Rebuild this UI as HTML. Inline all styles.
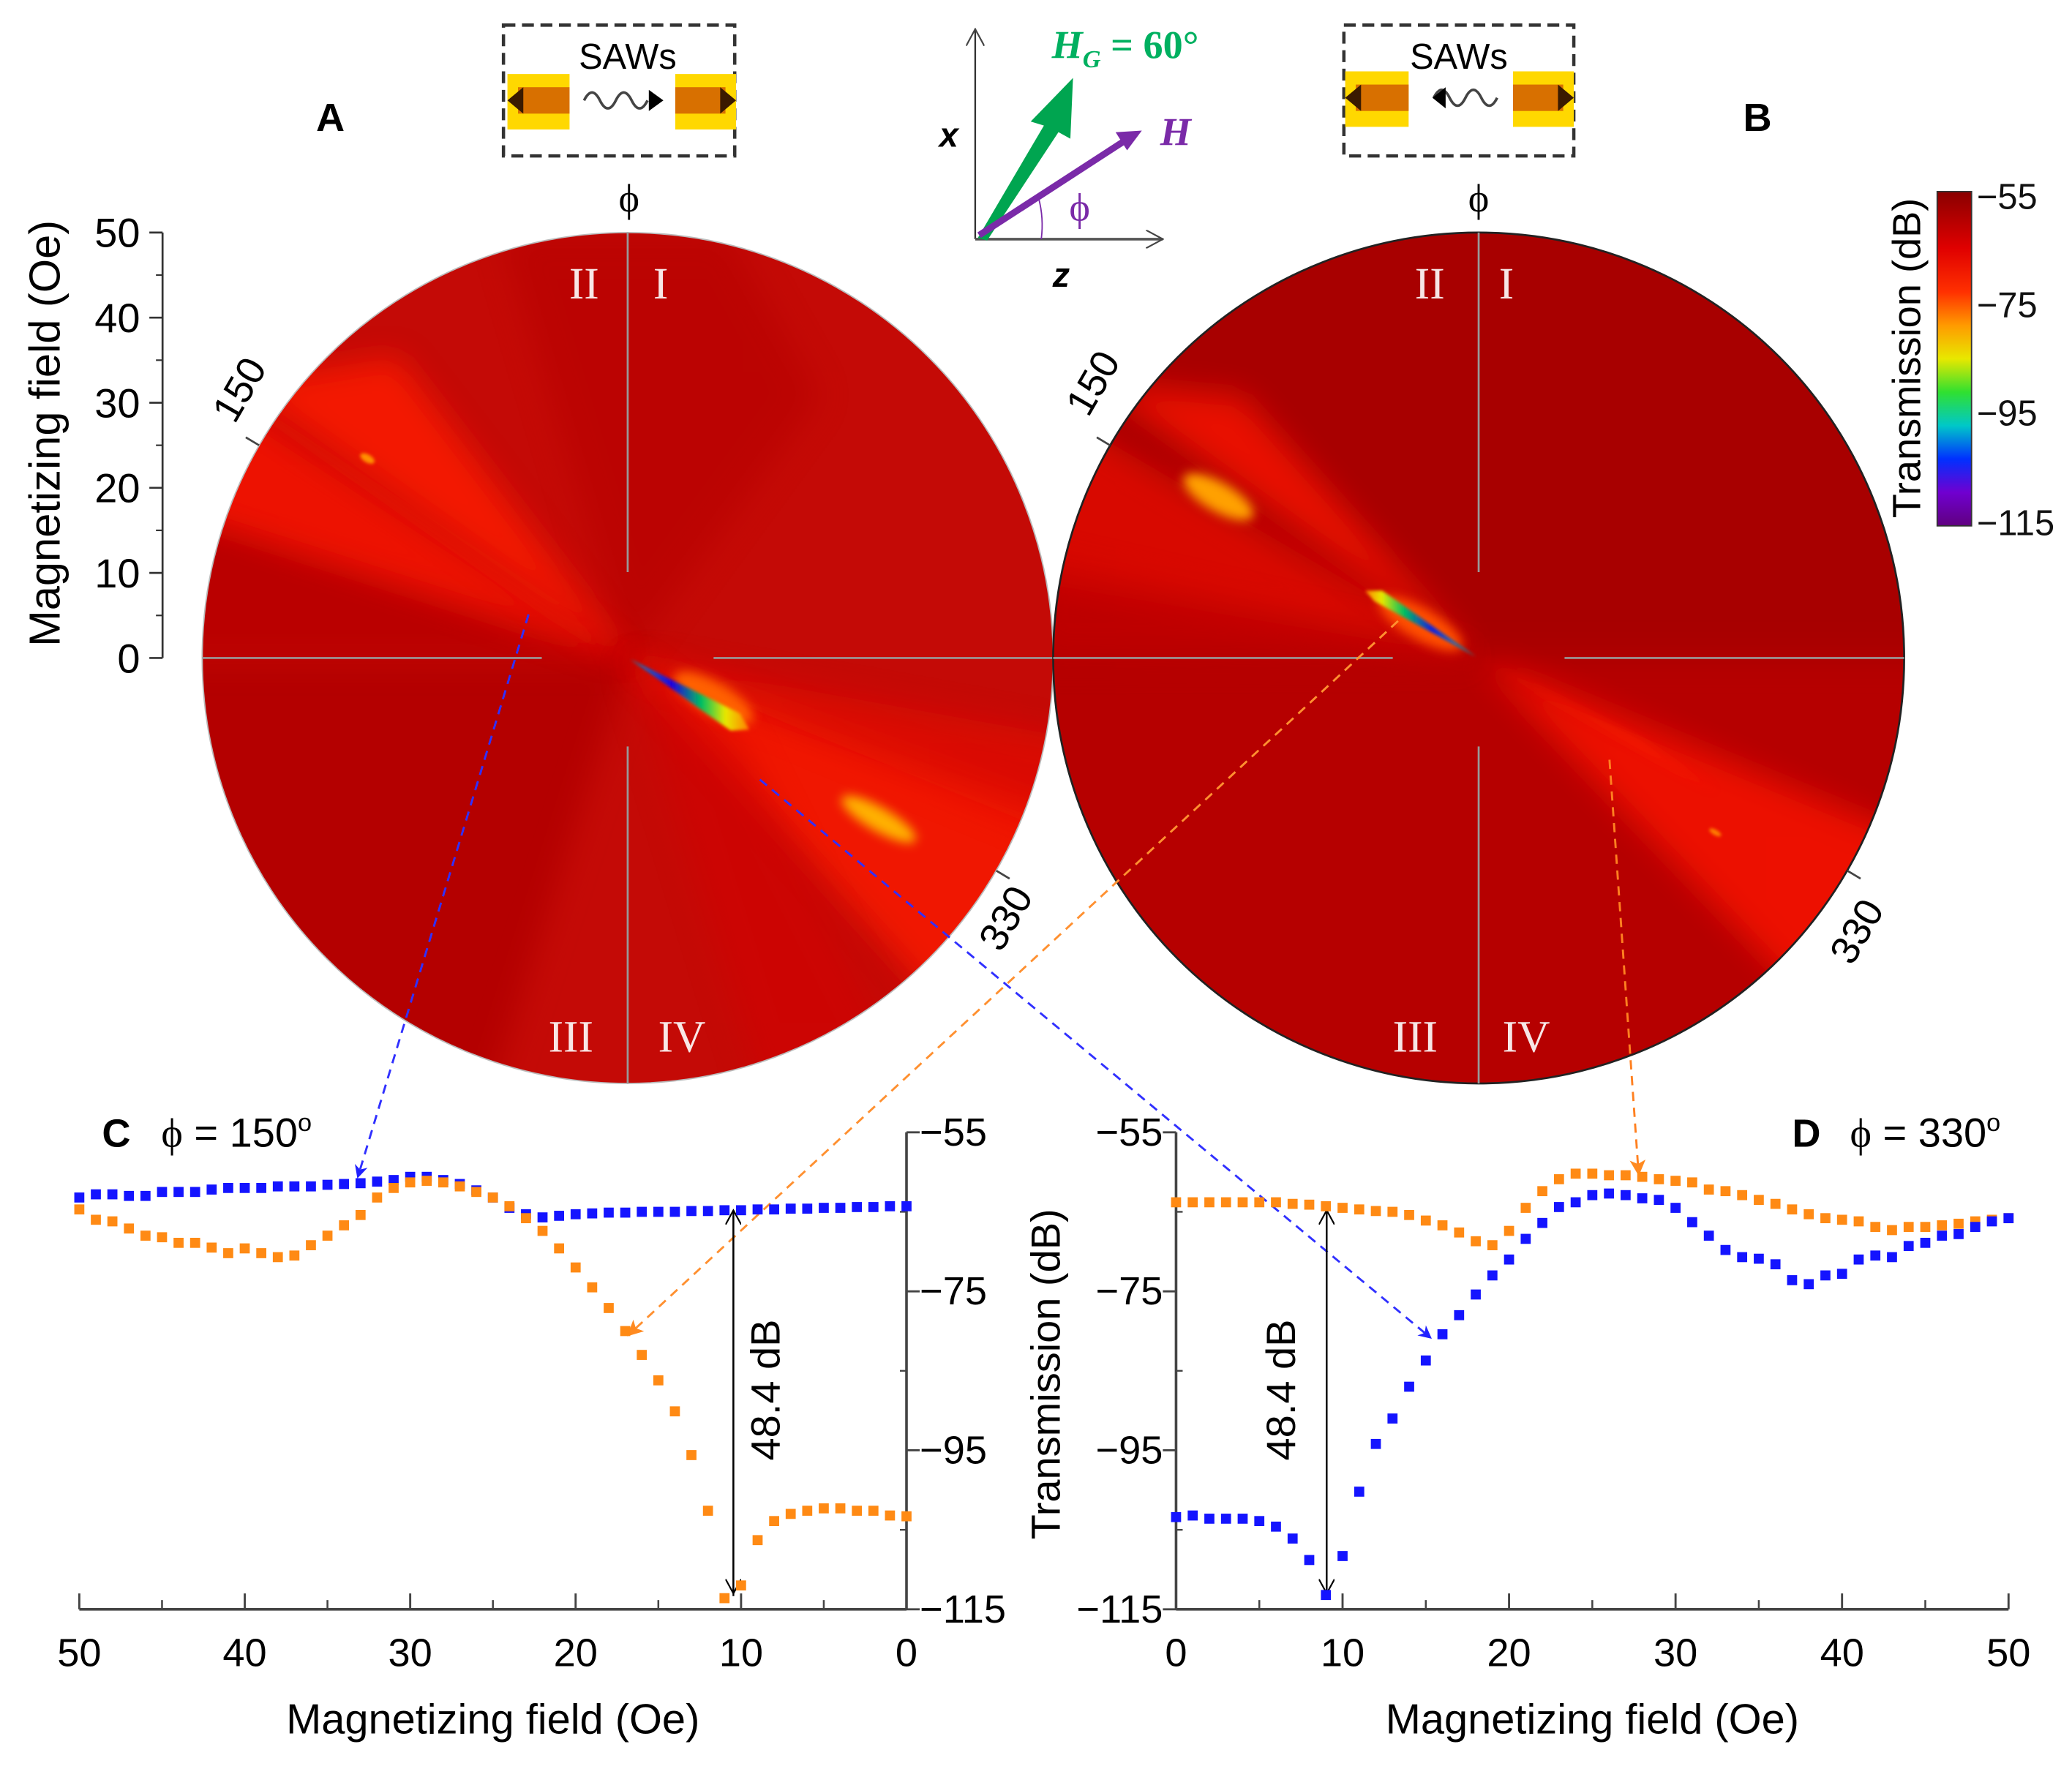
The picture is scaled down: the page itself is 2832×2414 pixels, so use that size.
<!DOCTYPE html>
<html><head><meta charset="utf-8"><style>
html,body{margin:0;padding:0;background:#fff;}
svg{display:block;font-family:"Liberation Sans",sans-serif;}
</style></head><body>
<svg id="fig" width="2832" height="2414" viewBox="0 0 1568 1336.6" xmlns="http://www.w3.org/2000/svg">
<defs>
<clipPath id="clipA"><circle cx="475" cy="498" r="322"/></clipPath>
<clipPath id="clipB"><circle cx="1119" cy="498" r="322"/></clipPath>
<filter id="bl6" x="-50%" y="-50%" width="200%" height="200%"><feGaussianBlur stdDeviation="12"/></filter>
<filter id="bl3" x="-50%" y="-50%" width="200%" height="200%"><feGaussianBlur stdDeviation="4"/></filter>
<filter id="bl1" x="-50%" y="-50%" width="200%" height="200%"><feGaussianBlur stdDeviation="1.2"/></filter>
<linearGradient id="cbar" x1="0" y1="0" x2="0" y2="1">
<stop offset="0" stop-color="#8a0000"/><stop offset="0.17" stop-color="#e00000"/><stop offset="0.3" stop-color="#ff3000"/>
<stop offset="0.4" stop-color="#ff9a00"/><stop offset="0.5" stop-color="#e8e800"/><stop offset="0.6" stop-color="#30e030"/>
<stop offset="0.7" stop-color="#00c8c8"/><stop offset="0.8" stop-color="#0030ff"/><stop offset="0.9" stop-color="#7000d0"/><stop offset="1" stop-color="#600080"/>
</linearGradient>
<linearGradient id="spotGrad" x1="0" y1="0" x2="1" y2="0">
<stop offset="0" stop-color="#00a0c0"/><stop offset="0.35" stop-color="#2000e0"/><stop offset="0.6" stop-color="#00c060"/><stop offset="0.8" stop-color="#e8e800"/><stop offset="1" stop-color="#ff8000"/>
</linearGradient>
<linearGradient id="spotGradB" x1="1" y1="0" x2="0" y2="0">
<stop offset="0" stop-color="#00b0a0"/><stop offset="0.4" stop-color="#1020e0"/><stop offset="0.65" stop-color="#00c060"/><stop offset="0.85" stop-color="#e8e800"/><stop offset="1" stop-color="#ff8000"/>
</linearGradient>
<marker id="arB" markerWidth="10" markerHeight="10" refX="8" refY="5" orient="auto" markerUnits="userSpaceOnUse"><path d="M0,0 L10,5 L0,10 L3,5 Z" fill="#2020ff"/></marker>
<marker id="arO" markerWidth="12" markerHeight="12" refX="10" refY="6" orient="auto" markerUnits="userSpaceOnUse"><path d="M0,0 L12,6 L0,12 L3,6 Z" fill="#ff8a20"/></marker>
<marker id="arK" markerWidth="12" markerHeight="12" refX="11" refY="6" orient="auto" markerUnits="userSpaceOnUse"><path d="M0,0 L11,6 L0,12" fill="none" stroke="#000" stroke-width="1.2"/></marker>
<marker id="arG" markerWidth="14" markerHeight="14" refX="13" refY="7" orient="auto" markerUnits="userSpaceOnUse"><path d="M0,0 L13,7 L0,14" fill="none" stroke="#444" stroke-width="1.2"/></marker>
</defs>

<!-- Polar A -->
<g>
<g clip-path="url(#clipA)">
<rect x="150" y="170" width="660" height="660" fill="#c40a06"/>
<path d="M475,498 L120,498 L120,860 L360,860 Z" fill="#b40202" filter="url(#bl6)"/>
<path d="M475,498 L120,380 L120,498 Z" fill="#ba0404" filter="url(#bl6)"/>
<path d="M475,498 L380,176 L550,176 L620,300 Z" fill="#b60404" opacity="0.6" filter="url(#bl6)"/>
<path d="M475,498 L140,280 L140,390 Z" fill="#ff1400" opacity="0.7" filter="url(#bl6)"/>
<path d="M475,498 L180,290 L300,270 Z" fill="#ff1a00" opacity="0.8" filter="url(#bl6)"/>
<path d="M475,498 L820,620 L820,720 L720,770 Z" fill="#ff1a00" opacity="0.75" filter="url(#bl6)"/>
<path d="M475,498 L820,560 L820,640 Z" fill="#e80800" opacity="0.6" filter="url(#bl6)"/>
<path d="M475,498 L560,560 L700,840 L580,840 Z" fill="#d40404" opacity="0.5" filter="url(#bl6)"/>
<ellipse cx="665" cy="620" rx="32" ry="9" transform="rotate(30 665 620)" fill="#ffb000" filter="url(#bl3)"/>
<ellipse cx="278" cy="347" rx="6" ry="3" transform="rotate(30 278 347)" fill="#ff9000" filter="url(#bl1)"/>
<ellipse cx="540" cy="528" rx="34" ry="12" transform="rotate(30 540 528)" fill="#ff6000" filter="url(#bl3)"/>
<path d="M477,499 L560,540 L567,552 L553,553 Z" fill="url(#spotGrad)" filter="url(#bl1)"/>
</g>
<circle cx="475" cy="498" r="322" fill="none" stroke="#bbb" stroke-width="1"/>
<g stroke="#999" stroke-width="1.5">
<line x1="475" y1="176" x2="475" y2="433"/><line x1="475" y1="565" x2="475" y2="820"/>
<line x1="153" y1="498" x2="410" y2="498"/><line x1="540" y1="498" x2="797" y2="498"/>
</g>
<g font-family="Liberation Serif,serif" font-size="34" fill="#fff" text-anchor="middle" opacity="0.9">
<text x="442" y="226">II</text>
<text x="500" y="226">I</text>
<text x="432" y="796">III</text>
<text x="516" y="796">IV</text>
</g>
<line x1="196" y1="337" x2="186" y2="331" stroke="#444" stroke-width="1.5"/>
<line x1="754" y1="659" x2="764" y2="665" stroke="#444" stroke-width="1.5"/>
<text x="190" y="300" font-size="30" text-anchor="middle" transform="rotate(-60 190 300)">150</text>
<text x="770" y="700" font-size="30" text-anchor="middle" transform="rotate(-60 770 700)">330</text>
<text x="476" y="160" font-family="Liberation Serif,serif" font-size="30" text-anchor="middle">ϕ</text>
</g>

<!-- Polar B -->
<g>
<g clip-path="url(#clipB)">
<rect x="794" y="170" width="660" height="660" fill="#a80000"/>
<path d="M1119,498 L770,498 L770,860 L1470,860 L1470,498 Z" fill="#b60202" filter="url(#bl6)"/>
<path d="M1119,498 L780,300 L780,440 Z" fill="#e80800" opacity="0.75" filter="url(#bl6)"/>
<path d="M1119,498 L830,290 L940,300 Z" fill="#ff1400" opacity="0.75" filter="url(#bl6)"/>
<path d="M1119,498 L780,420 L780,500 Z" fill="#cc0400" opacity="0.6" filter="url(#bl6)"/>
<path d="M1119,498 L1460,640 L1460,700 L1380,770 Z" fill="#ff1400" opacity="0.75" filter="url(#bl6)"/>
<path d="M1119,498 L1240,560 L1300,600 Z" fill="#ff2000" opacity="0.7" filter="url(#bl3)"/>
<ellipse cx="922" cy="376" rx="30" ry="11" transform="rotate(30 922 376)" fill="#ffa000" filter="url(#bl3)"/>
<ellipse cx="1298" cy="630" rx="5" ry="2" transform="rotate(30 1298 630)" fill="#ff8000" filter="url(#bl1)"/>
<ellipse cx="1075" cy="472" rx="36" ry="12" transform="rotate(30 1075 472)" fill="#ff5000" filter="url(#bl3)"/>
<path d="M1117,497 L1040,455 L1033,447 L1046,447 Z" fill="url(#spotGradB)" filter="url(#bl1)"/>
</g>
<circle cx="1119" cy="498" r="322" fill="none" stroke="#222" stroke-width="1.5"/>
<g stroke="#999" stroke-width="1.5">
<line x1="1119" y1="176" x2="1119" y2="433"/><line x1="1119" y1="565" x2="1119" y2="820"/>
<line x1="797" y1="498" x2="1054" y2="498"/><line x1="1184" y1="498" x2="1441" y2="498"/>
</g>
<g font-family="Liberation Serif,serif" font-size="34" fill="#fff" text-anchor="middle" opacity="0.9">
<text x="1082" y="226">II</text>
<text x="1140" y="226">I</text>
<text x="1071" y="796">III</text>
<text x="1155" y="796">IV</text>
</g>
<line x1="840" y1="337" x2="830" y2="331" stroke="#444" stroke-width="1.5"/>
<line x1="1398" y1="659" x2="1408" y2="665" stroke="#444" stroke-width="1.5"/>
<text x="836" y="295" font-size="30" text-anchor="middle" transform="rotate(-60 836 295)">150</text>
<text x="1414" y="710" font-size="30" text-anchor="middle" transform="rotate(-60 1414 710)">330</text>
<text x="1119" y="160" font-family="Liberation Serif,serif" font-size="30" text-anchor="middle">ϕ</text>
</g>

<!-- radial axis -->
<g stroke="#333" stroke-width="1.5">
<line x1="123" y1="176" x2="123" y2="498"/>
</g>
<g id="radialTicks"></g>
<text x="45" y="328" font-size="33" text-anchor="middle" transform="rotate(-90 45 328)">Magnetizing field (Oe)</text>

<text x="250" y="99" font-size="30" font-weight="bold" text-anchor="middle">A</text>
<text x="1330" y="99" font-size="30" font-weight="bold" text-anchor="middle">B</text>

<!-- SAW insets -->
<g>
<rect x="381" y="19" width="175" height="99" fill="none" stroke="#333" stroke-width="2.5" stroke-dasharray="9,5"/>
<text x="475" y="52" font-size="27" text-anchor="middle">SAWs</text>
<rect x="384" y="56" width="47" height="42" fill="#ffd800"/><rect x="392" y="66" width="39" height="20" fill="#d87000"/>
<path d="M384,76 L396,66 L396,86 Z" fill="#3a1a00"/>
<rect x="511" y="56" width="46" height="42" fill="#ffd800"/><rect x="511" y="66" width="38" height="20" fill="#d87000"/>
<path d="M557,76 L545,66 L545,86 Z" fill="#3a1a00"/>
<path d="M442,76 q6,-12 12,0 t12,0 t12,0 t12,0" fill="none" stroke="#444" stroke-width="2"/>
<path d="M491,68 L502,76 L491,84 Z" fill="#000"/>
</g>
<g>
<rect x="1017" y="19" width="174" height="99" fill="none" stroke="#333" stroke-width="2.5" stroke-dasharray="9,5"/>
<text x="1104" y="52" font-size="27" text-anchor="middle">SAWs</text>
<rect x="1018" y="54" width="48" height="42" fill="#ffd800"/><rect x="1026" y="64" width="40" height="20" fill="#d87000"/>
<path d="M1018,74 L1030,64 L1030,84 Z" fill="#3a1a00"/>
<rect x="1145" y="54" width="46" height="42" fill="#ffd800"/><rect x="1145" y="64" width="38" height="20" fill="#d87000"/>
<path d="M1191,74 L1179,64 L1179,84 Z" fill="#3a1a00"/>
<path d="M1085,74 q6,-12 12,0 t12,0 t12,0 t12,0" fill="none" stroke="#444" stroke-width="2"/>
<path d="M1084,74 L1094,66 L1094,82 Z" fill="#000"/>
</g>

<!-- axes diagram -->
<g>
<line x1="738" y1="181" x2="738" y2="22" stroke="#333" stroke-width="1.3" marker-end="url(#arG)"/>
<line x1="738" y1="181" x2="880" y2="181" stroke="#555" stroke-width="2" marker-end="url(#arG)"/>
<text x="718" y="111" font-size="26" font-weight="bold" font-style="italic" text-anchor="middle">x</text>
<text x="803" y="217" font-size="26" font-weight="bold" font-style="italic" text-anchor="middle">z</text>
<path d="M740,180 L790,95 L780,92 L812,59 L810,105 L801,100 L747,182 Z" fill="#00a550"/>
<line x1="741" y1="178" x2="852" y2="106" stroke="#7a2aa8" stroke-width="5"/>
<path d="M862,100 L846,101 L853,112 Z" fill="#7a2aa8" stroke="#7a2aa8" stroke-width="2"/>
<path d="M786,150 Q790,165 788,181" fill="none" stroke="#7a2aa8" stroke-width="1"/>
<text x="878" y="110" font-family="Liberation Serif,serif" font-size="30" font-weight="bold" font-style="italic" fill="#7a2aa8">H</text>
<text x="817" y="167" font-family="Liberation Serif,serif" font-size="30" fill="#7a2aa8" text-anchor="middle">ϕ</text>
<text x="796" y="44" font-family="Liberation Serif,serif" font-size="30" font-weight="bold" font-style="italic" fill="#00b060">H<tspan font-size="19" dy="7">G</tspan><tspan dy="-7" font-style="normal"> = 60°</tspan></text>
</g>

<!-- colorbar -->
<g>
<rect x="1466" y="145" width="26" height="253" fill="url(#cbar)" stroke="#333" stroke-width="1"/>
<g font-size="27" fill="#111">
<text x="1496" y="158">−55</text>
<text x="1496" y="240">−75</text>
<text x="1496" y="322">−95</text>
<text x="1496" y="405">−115</text>
</g>
<text x="1453" y="271" font-size="30" text-anchor="middle" transform="rotate(-90 1453 271)">Transmission (dB)</text>
</g>

<!-- connector arrows -->
<g fill="none" stroke-width="1.6" stroke-dasharray="7,5">
<line x1="400" y1="465" x2="271" y2="890" stroke="#3030ff" marker-end="url(#arB)"/>
<line x1="575" y1="590" x2="1082" y2="1012" stroke="#3030ff" marker-end="url(#arB)"/>
<line x1="1058" y1="470" x2="476" y2="1010" stroke="#ff9030" marker-end="url(#arO)"/>
<line x1="1218" y1="575" x2="1240" y2="888" stroke="#ff8020" marker-end="url(#arO)"/>
</g>

<!-- Panel C -->
<g id="panelC">
<text x="88" y="868" font-size="30" font-weight="bold" text-anchor="middle">C</text>
<text x="122" y="868" font-size="31"><tspan font-family="Liberation Serif,serif">ϕ</tspan> = 150<tspan font-size="19" dy="-12">o</tspan></text>
<line x1="60" y1="1218" x2="686" y2="1218" stroke="#444" stroke-width="2"/>
<line x1="686" y1="857" x2="686" y2="1218" stroke="#444" stroke-width="2"/>
<line x1="555" y1="1208" x2="555" y2="916" stroke="#000" stroke-width="1.3" marker-end="url(#arK)"/>
<line x1="555" y1="920" x2="555" y2="1206" stroke="#000" stroke-width="1.3" marker-end="url(#arK)"/>
<text x="590" y="1052" font-size="31" text-anchor="middle" transform="rotate(-90 590 1052)">48.4 dB</text>
<text x="373" y="1312" font-size="32" text-anchor="middle">Magnetizing field (Oe)</text>
</g>
<!-- Panel D -->
<g id="panelD">
<text x="1367" y="868" font-size="30" font-weight="bold" text-anchor="middle">D</text>
<text x="1400" y="868" font-size="31"><tspan font-family="Liberation Serif,serif">ϕ</tspan> = 330<tspan font-size="19" dy="-12">o</tspan></text>
<line x1="890" y1="1218" x2="1520" y2="1218" stroke="#444" stroke-width="2"/>
<line x1="890" y1="857" x2="890" y2="1218" stroke="#444" stroke-width="2"/>
<line x1="1004" y1="1208" x2="1004" y2="916" stroke="#000" stroke-width="1.3" marker-end="url(#arK)"/>
<line x1="1004" y1="920" x2="1004" y2="1206" stroke="#000" stroke-width="1.3" marker-end="url(#arK)"/>
<text x="980" y="1052" font-size="31" text-anchor="middle" transform="rotate(-90 980 1052)">48.4 dB</text>
<text x="802" y="1040" font-size="31" text-anchor="middle" transform="rotate(-90 802 1040)">Transmission (dB)</text>
<text x="1205" y="1312" font-size="32" text-anchor="middle">Magnetizing field (Oe)</text>
</g>
</svg>
<script>
const NS = "http://www.w3.org/2000/svg";
const fieldTicks = [0, 10, 20, 30, 40, 50];
const dbTicks = [-55, -75, -95, -115];
const radialTicks = [0, 10, 20, 30, 40, 50];
// field 0..50 Oe, 1 Oe step
const blueC = [-64.3,-64.3,-64.4,-64.4,-64.5,-64.5,-64.6,-64.6,-64.7,-64.7,-64.8,-64.8,-64.9,-64.9,-65,-65,-65,-65.1,-65.1,-65.2,-65.3,-65.5,-65.7,-65.3,-64.5,-63.2,-62.3,-61.5,-61,-60.6,-60.6,-61,-61.2,-61.4,-61.5,-61.6,-61.8,-61.8,-61.8,-62,-62,-62,-62.2,-62.5,-62.5,-62.5,-63,-63,-62.8,-62.8,-63.2];
const orangeC = [-103.3,-103.2,-102.6,-102.6,-102.3,-102.3,-102.6,-103,-103.9,-106.3,-112,-113.6,-102.6,-95.6,-90.1,-86.2,-83,-80,-77.1,-74.5,-72,-69.6,-67.4,-65.8,-64.3,-63.2,-62.5,-61.8,-61.3,-61.1,-61.3,-62,-63.2,-65.4,-66.7,-68,-69.2,-70.5,-70.7,-70.2,-69.6,-70.2,-69.5,-68.9,-68.9,-68.2,-68,-67.1,-66.2,-66,-64.7];
const blueD = [-103.4,-103.2,-103.6,-103.6,-103.6,-103.9,-104.6,-106.1,-108.8,-113.2,-108.3,-100.2,-94.2,-91,-87,-83.7,-80.4,-78,-75.4,-73,-71,-68.4,-66.4,-64.4,-63.8,-62.9,-62.7,-62.9,-63.3,-63.5,-64.5,-66.3,-68,-69.8,-70.7,-70.9,-71.6,-73.6,-74.1,-73,-72.8,-71,-70.5,-70.7,-69.3,-68.9,-68,-67.8,-66.9,-66.2,-65.8];
const orangeD = [-63.8,-63.8,-63.8,-63.8,-63.8,-63.8,-63.8,-64,-64.1,-64.3,-64.5,-64.7,-64.9,-65,-65.4,-66.1,-66.7,-67.6,-68.7,-69.2,-67.4,-64.5,-62.4,-60.9,-60.2,-60.2,-60.4,-60.4,-60.6,-60.9,-61.1,-61.3,-62.2,-62.4,-62.9,-63.5,-64,-64.7,-65.3,-65.8,-66,-66.2,-66.9,-67.3,-66.9,-66.9,-66.7,-66.5,-66.2,-66,-65.8];

function xC(f){ return 686 - f * (626 / 50); }
function xD(f){ return 890 + f * (630 / 50); }
function yT(db){ return 857 + (-55 - db) * (361 / 60); }
function yR(v){ return 498 - v * (322 / 50); }

function mk(tag, attrs, parent){
  const e = document.createElementNS(NS, tag);
  for (const k in attrs) e.setAttribute(k, attrs[k]);
  parent.appendChild(e);
  return e;
}
const rt = document.getElementById('radialTicks');
for (const v of radialTicks) {
  const t = mk('text', {x: 106, y: yR(v) + 11, 'font-size': 31, 'text-anchor': 'end'}, rt);
  t.textContent = v;
  
  
  const l = mk('line', {x1: 113, x2: 123, y1: yR(v), y2: yR(v), stroke: '#333', 'stroke-width': 1.5}, rt);
  
  
}
for (let v = 5; v < 50; v += 10) {
  mk('line', {x1: 118, x2: 123, y1: yR(v), y2: yR(v), stroke: '#333', 'stroke-width': 1.2}, rt);
}

function axes(panel, xf, yAxisX, labelSide) {
  for (const f of fieldTicks) {
    const l = mk('line', {x1: xf(f), x2: xf(f), y1: 1218, y2: 1206, stroke: '#444', 'stroke-width': 1.6}, panel);
    
    
    const t = mk('text', {x: xf(f), y: 1261, 'font-size': 30, 'text-anchor': 'middle'}, panel);
    t.textContent = f;
    
    
  }
  for (let f = 5; f < 50; f += 10) {
    mk('line', {x1: xf(f), x2: xf(f), y1: 1218, y2: 1211, stroke: '#444', 'stroke-width': 1.4}, panel);
  }
  for (const d of dbTicks) {
    const l = mk('line', {x1: yAxisX, x2: yAxisX + (labelSide > 0 ? 10 : -10), y1: yT(d), y2: yT(d), stroke: '#444', 'stroke-width': 1.6}, panel);
    
    
    const t = mk('text', {x: labelSide > 0 ? yAxisX + 10 : yAxisX - 10, y: yT(d) + 10, 'font-size': 30, 'text-anchor': labelSide > 0 ? 'start' : 'end'}, panel);
    t.textContent = '\u2212' + Math.abs(d);
    
    
  }
  for (let d = -65; d > -115; d -= 20) {
    mk('line', {x1: yAxisX, x2: yAxisX + (labelSide > 0 ? -5 : 5), y1: yT(d), y2: yT(d), stroke: '#444', 'stroke-width': 1.3}, panel);
  }
}
const pC = document.getElementById('panelC');
const pD = document.getElementById('panelD');
axes(pC, xC, 686, 1);
axes(pD, xD, 890, -1);

function series(panel, xf, vals, color, name) {
  const g = mk('g', {}, panel);
  
  
  vals.forEach((v, i) => {
    const r = mk('rect', {x: xf(i) - 3.8, y: yT(v) - 3.8, width: 7.6, height: 7.6, fill: color}, g);
    
    
  });
}
series(pC, xC, blueC, '#1414ff', 'series-c-blue');
series(pC, xC, orangeC, '#ff8a14', 'series-c-orange');
series(pD, xD, orangeD, '#ff8a14', 'series-d-orange');
series(pD, xD, blueD, '#1414ff', 'series-d-blue');
</script>
</body></html>
